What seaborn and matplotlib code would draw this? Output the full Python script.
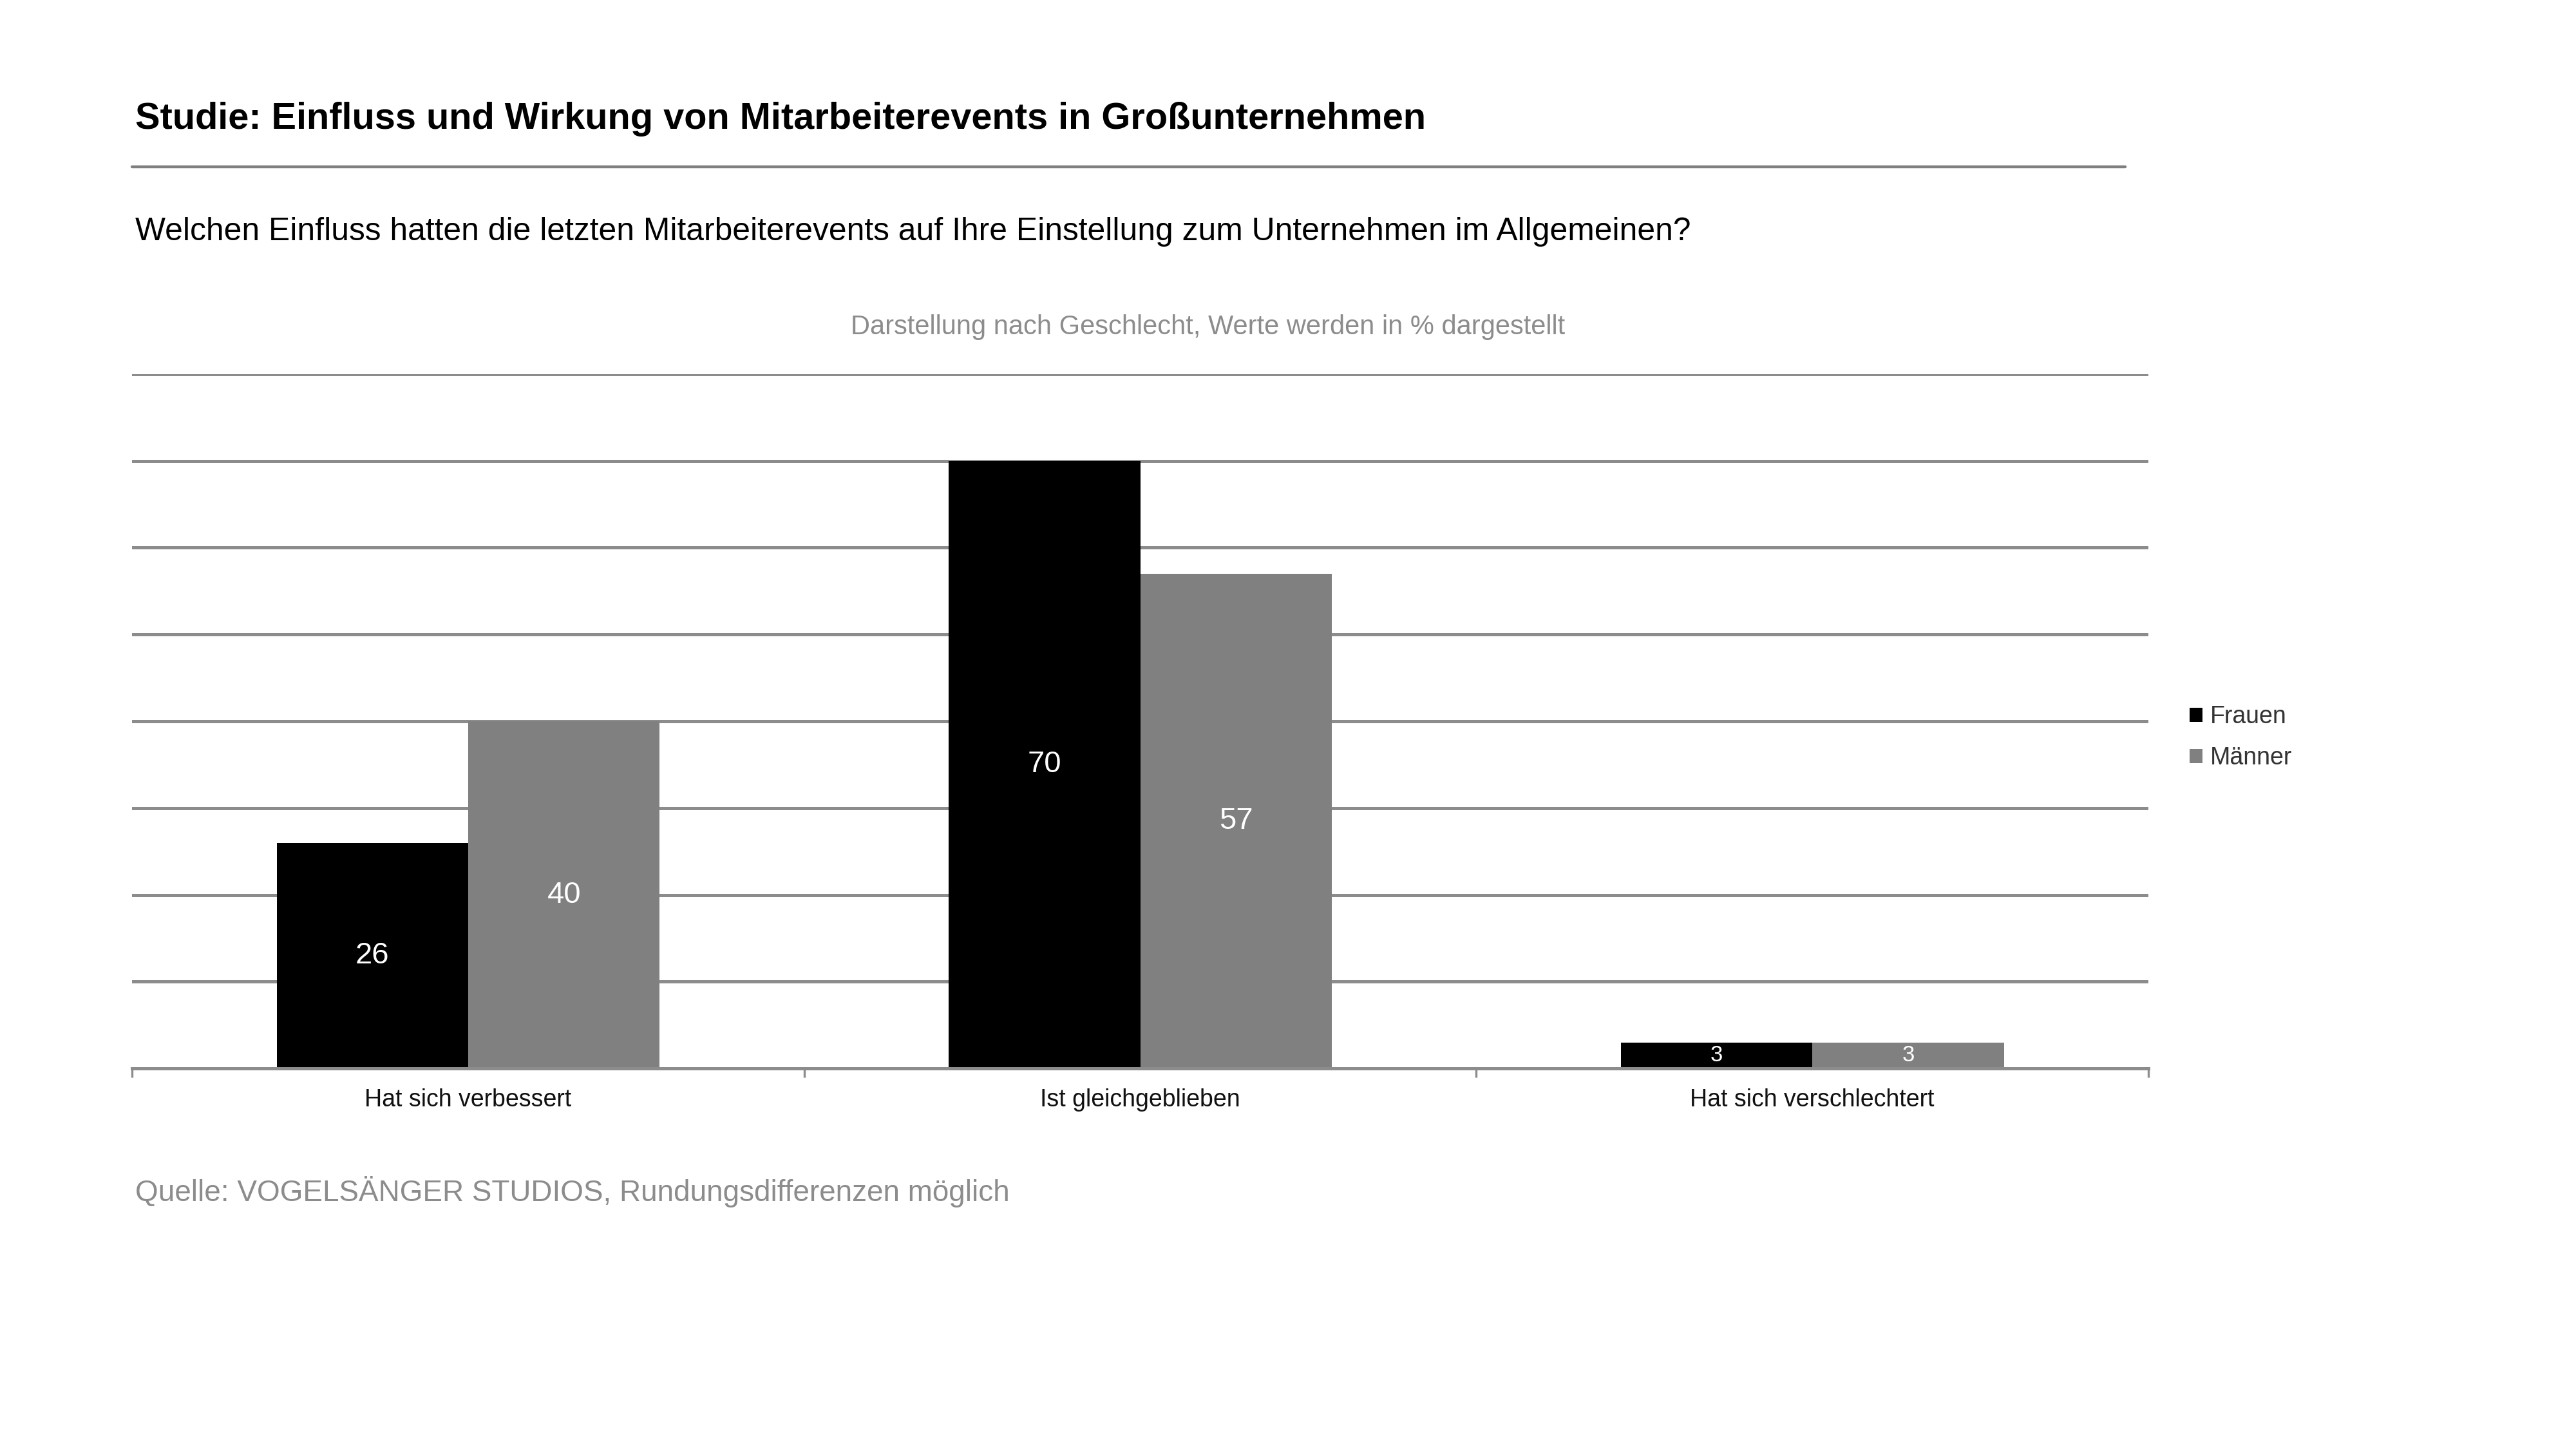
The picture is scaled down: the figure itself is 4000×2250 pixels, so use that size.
import pandas as pd
import numpy as np
import matplotlib.pyplot as plt
import seaborn as sns
from matplotlib.lines import Line2D

# Daten
kategorien = ['Hat sich verbessert', 'Ist gleichgeblieben', 'Hat sich verschlechtert']
frauen = [26, 70, 3]
maenner = [40, 57, 3]
gruppen = ['Frauen', 'Männer']

df = pd.DataFrame({
    'Kategorie': kategorien * 2,
    'Geschlecht': [gruppen[0]] * 3 + [gruppen[1]] * 3,
    'Wert': frauen + maenner,
})

sns.set_style('white')
plt.rcParams['font.family'] = ['Liberation Sans', 'DejaVu Sans']

fig = plt.figure(figsize=(20, 11.25), dpi=200)
ax = fig.add_axes([0.0513, 0.2626, 0.7827, 0.4793])

grau = '#808080'
sns.barplot(data=df, x='Kategorie', y='Wert', hue='Geschlecht',
            palette=['#000000', grau], width=0.57, saturation=1,
            linewidth=0, ax=ax, legend=True)

ax.set_ylim(0, 80)
ax.set_xlim(-0.5, 2.5)
ax.set_yticks(np.arange(0, 81, 10))
ax.yaxis.grid(True, color='#8c8c8c', linewidth=1.8)
ax.set_axisbelow(True)
ax.tick_params(axis='y', left=False, labelleft=False)
for s in ['top', 'right', 'left']:
    ax.spines[s].set_visible(False)
ax.spines['bottom'].set_color('#8c8c8c')
ax.spines['bottom'].set_linewidth(1.8)
ax.set_xlabel('')
ax.set_ylabel('')

# Ticks zwischen den Kategorien
ax.set_xticks([-0.5, 0.5, 1.5, 2.5], minor=True)
ax.tick_params(axis='x', which='minor', bottom=True, length=5, width=1.2,
               color='#8c8c8c', direction='out')
ax.tick_params(axis='x', which='major', length=0, labelsize=13.5, pad=11, labelcolor='#111111')

# Werte in den Balken
for cont in ax.containers:
    werte = [b.get_height() for b in cont]
    for bar, v in zip(cont, werte):
        size = 17 if v > 10 else 12.5
        ax.text(bar.get_x() + bar.get_width() / 2, v / 2, f'{v:.0f}',
                ha='center', va='center', color='white', fontsize=size)

# Legende
ax.legend(loc='center left', bbox_to_anchor=(0.8415, 0.491), bbox_transform=fig.transFigure,
          frameon=False, fontsize=13.5, handlelength=0.55, handleheight=0.55,
          handletextpad=0.3, labelspacing=0.75, labelcolor='#333333')

# Texte
fig.text(0.0525, 0.918, 'Studie: Einfluss und Wirkung von Mitarbeiterevents in Großunternehmen',
         fontsize=20.8, fontweight='bold', color='black', va='center', ha='left')
fig.add_artist(Line2D([0.0513, 0.825], [0.885, 0.885], color='#7f7f7f', linewidth=1.6,
                      transform=fig.transFigure))
fig.text(0.0525, 0.840, 'Welchen Einfluss hatten die letzten Mitarbeiterevents auf Ihre Einstellung zum Unternehmen im Allgemeinen?',
         fontsize=17.9, color='black', va='center', ha='left')
fig.text(0.469, 0.774, 'Darstellung nach Geschlecht, Werte werden in % dargestellt',
         fontsize=15, color='#8c8c8c', va='center', ha='center')
fig.text(0.0525, 0.1774, 'Quelle: VOGELSÄNGER STUDIOS, Rundungsdifferenzen möglich',
         fontsize=16.5, color='#8c8c8c', va='center', ha='left')

plt.savefig('out.png', dpi=200)
